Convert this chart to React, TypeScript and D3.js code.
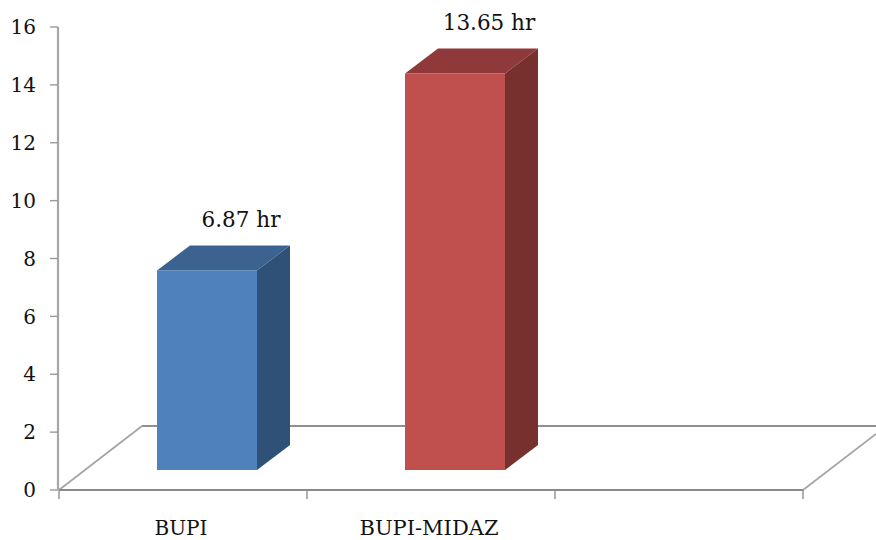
import React from "react";
import * as d3 from "d3";

const categories = ["BUPI", "BUPI-MIDAZ", ""];
const durations = [6.87, 13.65];
const durationLabels = ["6.87 hr", "13.65 hr"];
const yTicks = [0, 2, 4, 6, 8, 10, 12, 14, 16];
const frontColors = ["#4f81bd", "#c0504d"];
const topColors = ["#3c6390", "#90393a"];
const sideColors = ["#2f5077", "#77302e"];

const WIDTH = 876;
const HEIGHT = 540;
const FONT = "'DejaVu Serif', serif";
const DEPTH_X = 33;
const DEPTH_Y = 25;

// Axis scale on the front plane of the floor.
const yAxis = d3.scaleLinear().domain([0, 16]).range([490, 27]);
// Bars stand further back on the floor, so they have their own baseline.
const yBar = d3.scaleLinear().domain([0, 16]).range([470, 470 - 16 * 29.05]);
const xBand = d3.scaleBand().domain(categories.map((c, i) => `${i}:${c}`)).range([59, 803]);
const BAR_WIDTH = 100;

const pts = (p: number[][]) => p.map((q) => q.join(",")).join(" ");

export default function App() {
  const bandEdges = [0, 1, 2].map((i) => xBand(`${i}:${categories[i]}`) as number);
  const ticksX = [...bandEdges, 803];
  const left = 59;
  const right = 803;
  const base = yAxis(0);
  const floorBack = 426;

  return (
    <svg
      width={WIDTH}
      height={HEIGHT}
      viewBox={`0 0 ${WIDTH} ${HEIGHT}`}
      style={{ position: "absolute", left: 0, top: 0, background: "#fff" }}
    >
      {/* floor outline */}
      <g fill="none" stroke="#a3a3a3" strokeWidth={1.6}>
        <line x1={left} y1={base} x2={142} y2={floorBack} />
        <line x1={142} y1={floorBack} x2={WIDTH} y2={floorBack} stroke="#8f8f8f" strokeWidth={2} />
        <line x1={right} y1={base} x2={WIDTH} y2={434} />
      </g>

      {/* value axis */}
      <line x1={58} y1={yAxis(16)} x2={58} y2={base} stroke="#a6a6a6" strokeWidth={2.2} />
      {yTicks.map((t) => (
        <g key={t}>
          <line x1={50} x2={58} y1={yAxis(t)} y2={yAxis(t)} stroke="#9a9a9a" strokeWidth={1.4} />
          <text
            x={36}
            y={yAxis(t)}
            dy="0.36em"
            textAnchor="end"
            fontFamily={FONT}
            fontSize={20}
            fill="#111"
          >
            {t}
          </text>
        </g>
      ))}

      {/* category axis */}
      <line x1={left} y1={base} x2={right} y2={base} stroke="#8a8a8a" strokeWidth={2} />
      {ticksX.map((x) => (
        <line key={x} x1={x} x2={x} y1={base} y2={499} stroke="#8f8f8f" strokeWidth={1.4} />
      ))}
      <text x={181} y={535} textAnchor="middle" fontFamily={FONT} fontSize={20} fill="#111">
        {categories[0]}
      </text>
      <text x={429} y={535} textAnchor="middle" fontFamily={FONT} fontSize={21} fill="#111">
        {categories[1]}
      </text>

      {/* extruded bars */}
      {durations.map((v, i) => {
        const x0 = bandEdges[i] + 98;
        const x1 = x0 + BAR_WIDTH;
        const top = yBar(v);
        const bottom = yBar(0);
        return (
          <g key={i}>
            <polygon
              points={pts([[x0, top], [x0 + DEPTH_X, top - DEPTH_Y], [x1 + DEPTH_X, top - DEPTH_Y], [x1, top]])}
              fill={topColors[i]}
            />
            <polygon
              points={pts([[x1, top], [x1 + DEPTH_X, top - DEPTH_Y], [x1 + DEPTH_X, bottom - DEPTH_Y], [x1, bottom]])}
              fill={sideColors[i]}
            />
            <rect x={x0} y={top} width={BAR_WIDTH} height={bottom - top} fill={frontColors[i]} />
            <text
              x={x1 + DEPTH_X - 49}
              y={top - DEPTH_Y - 18}
              textAnchor="middle"
              fontFamily={FONT}
              fontSize={21.5}
              fill="#111"
            >
              {durationLabels[i]}
            </text>
          </g>
        );
      })}
    </svg>
  );
}
